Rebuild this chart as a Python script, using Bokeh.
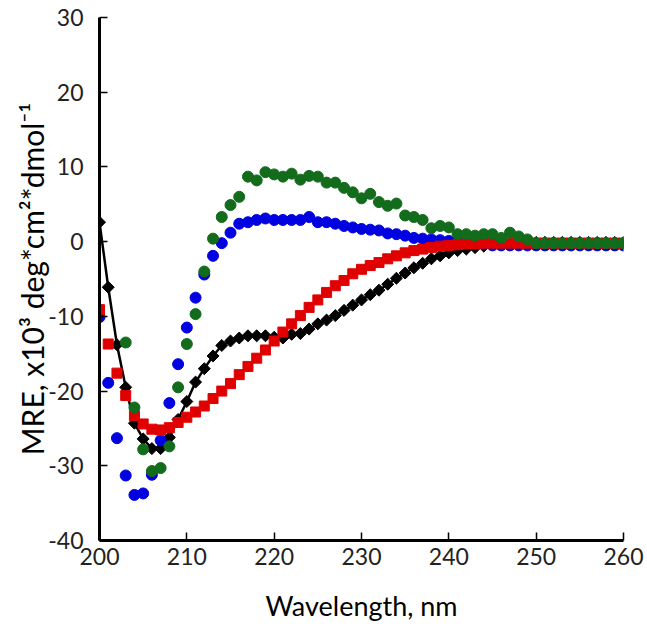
import math
from bokeh.plotting import figure
from bokeh.models import FixedTicker, ColumnDataSource
from bokeh.embed import file_html
from bokeh.resources import INLINE

wavelength = list(range(200, 261))

black_mre = [2.6, -6.1, -13.8, -19.5, -24.3, -26.4, -27.7, -27.7, -26.2, -23.8,
             -21.4, -18.8, -17.0, -15.3, -13.9, -13.3, -12.9, -12.6, -12.6, -12.6,
             -12.8, -12.9, -12.4, -12.3, -11.7, -11.0, -10.5, -9.9, -9.2, -8.5,
             -7.8, -7.1, -6.5, -5.7, -4.9, -4.2, -3.5, -2.9, -2.3, -1.9,
             -1.5, -1.2, -1.0, -0.8, -0.6, -0.4, -0.3, -0.3, -0.2, -0.2,
             -0.1, -0.1, -0.1, -0.1, -0.1, -0.1, -0.1, -0.1, -0.1, -0.1, -0.1]

red_mre = [-9.1, -13.7, -17.6, -20.6, -23.3, -24.4, -25.1, -25.2, -24.9, -24.2,
           -23.5, -22.8, -22.0, -21.0, -20.0, -19.0, -17.8, -16.7, -15.6, -14.5,
           -13.3, -12.1, -11.0, -9.9, -8.8, -7.8, -6.8, -5.9, -5.2, -4.3,
           -3.7, -3.2, -2.8, -2.3, -1.9, -1.5, -1.2, -1.0, -0.8, -0.6,
           -0.5, -0.4, -0.3, -0.3, -0.2, -0.2, -0.2, -0.2, -0.2, -0.2,
           -0.2, -0.2, -0.2, -0.2, -0.2, -0.2, -0.2, -0.2, -0.2, -0.2, -0.2]

blue_mre = [-10.1, -18.9, -26.3, -31.3, -33.9, -33.7, -31.2, -26.6, -21.6, -16.4,
            -11.5, -7.5, -4.4, -1.9, -0.2, 1.2, 2.4, 2.6, 2.9, 3.1,
            2.9, 2.9, 2.9, 2.9, 3.3, 2.6, 2.6, 2.4, 2.1, 1.9,
            1.7, 1.6, 1.5, 1.1, 1.0, 0.8, 0.5, 0.4, 0.3, 0.2,
            0.1, 0.0, -0.1, -0.2, -0.3, -0.5, -0.5, -0.5, -0.5, -0.5,
            -0.5, -0.5, -0.5, -0.5, -0.5, -0.5, -0.5, -0.5, -0.5, -0.5, -0.5]

green_wavelength = list(range(203, 261))
green_mre = [-13.5, -22.2, -27.8, -30.7, -30.3, -27.4, -19.5,
             -13.7, -9.7, -4.0, 0.4, 3.3, 4.9, 6.0, 8.7, 8.2, 9.3,
             9.0, 8.7, 9.1, 8.3, 8.8, 8.7, 7.9, 7.9, 7.2, 6.6,
             5.8, 6.4, 5.3, 4.8, 5.1, 3.5, 3.3, 2.9, 1.8, 2.1,
             1.9, 1.0, 1.0, 0.8, 1.0, 1.0, 0.5, 1.2, 0.7, 0.3,
             -0.2, -0.2, -0.2, -0.2, -0.2, -0.2, -0.2, -0.2, -0.2, -0.2, -0.2]

x_ticks = [200, 210, 220, 230, 240, 250, 260]
y_ticks = [-40, -30, -20, -10, 0, 10, 20, 30]

FONT = "Lato"
X0, X1, Y0, Y1 = 200, 260, -40, 30

# layout (pixels on page)
W, H = 646, 630
FL, FR, FT, FB = 99, 623, 17, 540

p = figure(width=W, height=H, x_range=(X0, X1), y_range=(Y0, Y1),
           output_backend="svg", toolbar_location=None,
           min_border_left=FL, min_border_right=W - FR,
           min_border_top=FT, min_border_bottom=H - FB)
p.outline_line_color = None
p.xgrid.grid_line_color = None
p.ygrid.grid_line_color = None
p.background_fill_color = "white"
p.border_fill_color = "white"

for ax in (p.xaxis, p.yaxis):
    ax.axis_line_width = 3
    ax.axis_line_color = "black"
    ax.major_tick_in = 8
    ax.major_tick_out = 0
    ax.major_tick_line_width = 1.5
    ax.major_tick_line_color = "black"
    ax.minor_tick_line_color = None
    ax.major_label_text_font = FONT
    ax.major_label_text_font_size = "23px"
    ax.major_label_text_color = "#222222"
    ax.axis_label_text_font = FONT
    ax.axis_label_text_font_style = "normal"
    ax.axis_label_text_color = "black"

p.xaxis.ticker = FixedTicker(ticks=x_ticks)
p.yaxis.ticker = FixedTicker(ticks=y_ticks)
p.xaxis.major_label_overrides = {t: str(t) for t in x_ticks}
p.yaxis.major_label_overrides = {t: str(t) for t in y_ticks}
p.xaxis.major_label_standoff = 7
p.yaxis.major_label_standoff = 16

p.xaxis.axis_label = "Wavelength, nm"
p.xaxis.axis_label_text_font_size = "27px"
p.xaxis.axis_label_standoff = 21

p.yaxis.axis_label = "MRE, x10\u00b3 deg*cm\u00b2*dmol\u207b\u00b9"
p.yaxis.axis_label_text_font_size = "30px"
p.yaxis.axis_label_standoff = -5

src_black = ColumnDataSource(dict(x=wavelength, y=black_mre))
src_red = ColumnDataSource(dict(x=wavelength, y=red_mre))
src_blue = ColumnDataSource(dict(x=wavelength, y=blue_mre))
src_green = ColumnDataSource(dict(x=green_wavelength, y=green_mre))

p.line("x", "y", source=src_black, line_color="black", line_width=2.5)
p.scatter("x", "y", source=src_black, marker="square", angle=math.pi / 4,
          size=8.5, fill_color="black", line_color="black")
p.scatter("x", "y", source=src_blue, marker="circle", size=11,
          fill_color="#0000E0", line_color="#0000E0")
p.scatter("x", "y", source=src_red, marker="square", size=10,
          fill_color="#E00000", line_color="#E00000")
p.scatter("x", "y", source=src_green, marker="circle", size=11,
          fill_color="#136B1C", line_color="#136B1C")

open("out.html", "w").write(file_html(p, INLINE))
